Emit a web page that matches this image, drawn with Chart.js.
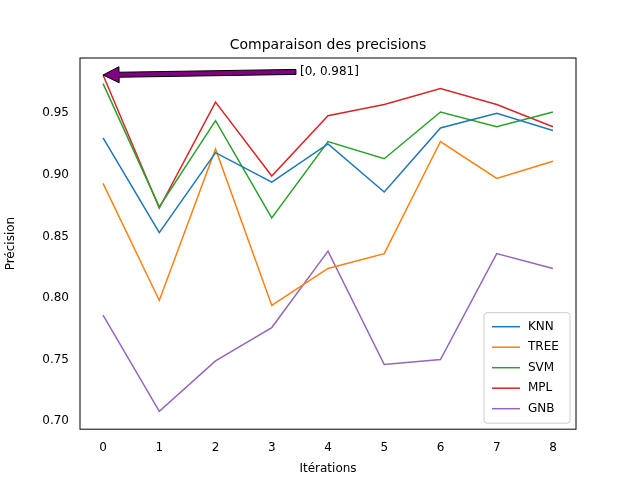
<!DOCTYPE html>
<html>
<head>
<meta charset="utf-8">
<script src="https://cdn.jsdelivr.net/npm/chart.js@4"></script>
<style>body{margin:0;background:#fff}#wrap{width:640px;height:480px}</style>
</head>
<body>
<div id="wrap"><canvas id="c" width="640" height="480"></canvas></div>
<script>
const iterations = [0, 1, 2, 3, 4, 5, 6, 7, 8];
const knn  = [0.930, 0.853, 0.918, 0.894, 0.925, 0.886, 0.938, 0.950, 0.936];
const tree = [0.893, 0.798, 0.921, 0.794, 0.824, 0.836, 0.927, 0.897, 0.911];
const svm  = [0.974, 0.874, 0.944, 0.865, 0.927, 0.913, 0.951, 0.939, 0.951];
const mpl  = [0.981, 0.873, 0.959, 0.899, 0.948, 0.957, 0.970, 0.957, 0.939];
const gnb  = [0.786, 0.708, 0.749, 0.776, 0.838, 0.746, 0.750, 0.836, 0.824];
const yTicks = [0.70, 0.75, 0.80, 0.85, 0.90, 0.95];
const annotText = "[0, 0.981]";

const font = "DejaVu Sans";
function ds(label, data, color) {
  return { label, data: iterations.map((x, i) => ({ x, y: data[i] })), borderColor: color,
    backgroundColor: color, borderWidth: 1.5, pointRadius: 0, tension: 0 };
}

const extras = {
  id: "extras",
  afterDraw(chart) {
    const { ctx, scales: { x, y }, chartArea: a } = chart;
    ctx.save();
    // frame
    ctx.strokeStyle = "#000"; ctx.lineWidth = 1;
    ctx.strokeRect(a.left, a.top, a.right - a.left, a.bottom - a.top);
    // title
    ctx.fillStyle = "#000"; ctx.font = "14px " + font;
    ctx.textAlign = "center"; ctx.textBaseline = "bottom";
    ctx.fillText("Comparaison des precisions", (a.left + a.right) / 2, a.top - 6);
    // annotation arrow
    const hx = x.getPixelForValue(0), hy = y.getPixelForValue(mpl[0]);
    const tx = x.getPixelForValue(3.43), ty = y.getPixelForValue(0.9835);
    const ang = Math.atan2(ty - hy, tx - hx);
    const ux = Math.cos(ang), uy = Math.sin(ang), px = -uy, py = ux;
    const hl = 16, hw = 8, sw = 2.5;
    const bx = hx + ux * hl, by = hy + uy * hl;
    ctx.beginPath();
    ctx.moveTo(hx, hy);
    ctx.lineTo(bx + px * hw, by + py * hw);
    ctx.lineTo(bx + px * sw, by + py * sw);
    ctx.lineTo(tx + px * sw, ty + py * sw);
    ctx.lineTo(tx - px * sw, ty - py * sw);
    ctx.lineTo(bx - px * sw, by - py * sw);
    ctx.lineTo(bx - px * hw, by - py * hw);
    ctx.closePath();
    ctx.fillStyle = "#800080"; ctx.fill();
    ctx.strokeStyle = "#000"; ctx.stroke();
    ctx.fillStyle = "#000"; ctx.font = "12px " + font;
    ctx.textAlign = "left"; ctx.textBaseline = "middle";
    ctx.fillText(annotText, tx + 4, ty);
    // legend
    const items = chart.data.datasets;
    const lw = 86, lh = 8 + items.length * 20.5, lx = a.right - lw - 6, ly = a.bottom - lh - 6;
    ctx.fillStyle = "rgba(255,255,255,0.8)"; ctx.strokeStyle = "#ccc";
    ctx.beginPath(); ctx.roundRect(lx, ly, lw, lh, 3); ctx.fill(); ctx.stroke();
    items.forEach((d, i) => {
      const cy = ly + 14 + i * 20.5;
      ctx.strokeStyle = d.borderColor; ctx.lineWidth = 1.5;
      ctx.beginPath(); ctx.moveTo(lx + 8, cy); ctx.lineTo(lx + 36, cy); ctx.stroke();
      ctx.fillStyle = "#000"; ctx.fillText(d.label, lx + 44, cy);
    });
    ctx.restore();
  }
};

new Chart(document.getElementById("c"), {
  type: "line",
  data: { datasets: [
    ds("KNN", knn, "#1f77b4"), ds("TREE", tree, "#ff7f0e"), ds("SVM", svm, "#2ca02c"),
    ds("MPL", mpl, "#d62728"), ds("GNB", gnb, "#9467bd")
  ] },
  options: {
    responsive: false, animation: false, devicePixelRatio: 1,
    layout: { padding: { top: 58, right: 64, bottom: 0, left: 0 } },
    plugins: { legend: { display: false }, tooltip: { enabled: false } },
    scales: {
      x: { type: "linear", min: -0.41, max: 8.41,
        afterBuildTicks: s => { s.ticks = iterations.map(v => ({ value: v })); },
        grid: { display: false, drawTicks: true }, border: { display: false },
        ticks: { color: "#000", font: { family: font, size: 12 }, callback: v => v },
        title: { display: true, text: "Itérations", color: "#000", font: { family: font, size: 12 } } },
      y: { min: 0.6935, max: 0.9948,
        afterBuildTicks: s => { s.ticks = yTicks.map(v => ({ value: v })); },
        afterFit: s => { s.width = 80; },
        grid: { display: false }, border: { display: false },
        ticks: { color: "#000", font: { family: font, size: 12 }, callback: v => v.toFixed(2) },
        title: { display: true, text: "Précision", color: "#000", font: { family: font, size: 12 } } }
    }
  },
  plugins: [extras]
});
</script>
</body>
</html>
